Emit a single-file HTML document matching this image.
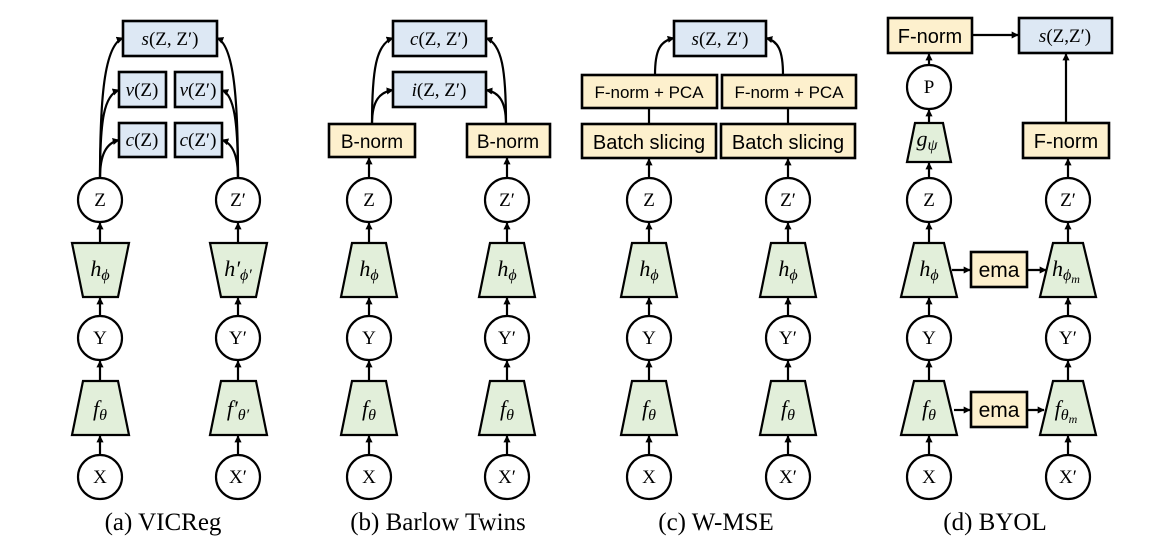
<!DOCTYPE html>
<html><head><meta charset="utf-8"><style>
html,body{margin:0;padding:0;background:#fff;}
svg{display:block;}
.m{font-family:"Liberation Serif",serif;font-style:italic;font-size:19px;}
.r{font-family:"Liberation Serif",serif;font-size:19px;}
.s{font-family:"Liberation Sans",sans-serif;font-size:17px;}
.cap{font-family:"Liberation Serif",serif;font-size:25px;}
.ln{stroke:#000;stroke-width:2.2;fill:none;}
.blue{fill:#dde8f4;stroke:#000;stroke-width:2.6;}
.yel{fill:#fdf0cd;stroke:#000;stroke-width:2.6;}
.grn{fill:#e2efda;stroke:#000;stroke-width:2.2;}
.cir{fill:#fff;stroke:#000;stroke-width:2.2;}
</style></head><body>
<svg width="1168" height="547" viewBox="0 0 1168 547">
<defs><marker id="ah" viewBox="0 0 10 10" refX="9" refY="5" markerWidth="3.2" markerHeight="3.2" orient="auto"><path d="M0,0L10,5L0,10z" fill="#000"/></marker></defs>

<!-- ===== Panel A: VICReg ===== -->
<g>
<g class="ln" marker-end="url(#ah)">
<line x1="100" y1="455" x2="100" y2="436"/><line x1="100" y1="381" x2="100" y2="361"/><line x1="100" y1="316" x2="100" y2="298"/><line x1="100" y1="243" x2="100" y2="223"/>
<line x1="238" y1="455" x2="238" y2="436"/><line x1="238" y1="381" x2="238" y2="361"/><line x1="238" y1="316" x2="238" y2="298"/><line x1="238" y1="243" x2="238" y2="223"/>
<path d="M100 178 C100 100 104 45 123 38"/><path d="M100 178 C100 120 104 95 119 90"/><path d="M100 178 C100 155 106 143 119 140"/>
<path d="M238 178 C238 100 234 45 217 38"/><path d="M238 178 C238 120 234 95 222 90"/><path d="M238 178 C238 155 232 143 222 140"/>
</g>
<rect class="blue" x="123" y="21" width="94" height="35"/>
<text class="m" x="170" y="45" text-anchor="middle">s<tspan font-style="normal">(Z, Z′)</tspan></text>
<rect class="blue" x="119" y="72" width="47" height="35"/>
<text class="m" x="142" y="96" text-anchor="middle">v<tspan font-style="normal">(Z)</tspan></text>
<rect class="blue" x="175" y="72" width="47" height="35"/>
<text class="m" x="198" y="96" text-anchor="middle">v<tspan font-style="normal">(Z′)</tspan></text>
<rect class="blue" x="119" y="123" width="47" height="34"/>
<text class="m" x="142" y="146" text-anchor="middle">c<tspan font-style="normal">(Z)</tspan></text>
<rect class="blue" x="175" y="123" width="47" height="34"/>
<text class="m" x="198" y="146" text-anchor="middle">c<tspan font-style="normal">(Z′)</tspan></text>
<circle class="cir" cx="100" cy="200" r="22"/><text class="r" x="100" y="206" text-anchor="middle">Z</text>
<circle class="cir" cx="238" cy="200" r="22"/><text class="r" x="238" y="206" text-anchor="middle">Z′</text>
<polygon class="grn" points="72,243 129,243 118,297 83,297"/>
<text class="m" x="100" y="276" text-anchor="middle" style="font-size:22px">h<tspan font-size="16" dy="4">ϕ</tspan></text>
<polygon class="grn" points="210,243 267,243 256,297 221,297"/>
<text class="m" x="238" y="276" text-anchor="middle" style="font-size:22px">h′<tspan font-size="16" dy="4">ϕ′</tspan></text>
<circle class="cir" cx="100" cy="338" r="22"/><text class="r" x="100" y="344" text-anchor="middle">Y</text>
<circle class="cir" cx="238" cy="338" r="22"/><text class="r" x="238" y="344" text-anchor="middle">Y′</text>
<polygon class="grn" points="83,381 118,381 129,435 72,435"/>
<text class="m" x="100" y="416" text-anchor="middle" style="font-size:22px">f<tspan font-size="16" dy="4">θ</tspan></text>
<polygon class="grn" points="221,381 256,381 267,435 210,435"/>
<text class="m" x="238" y="416" text-anchor="middle" style="font-size:22px">f′<tspan font-size="16" dy="4">θ′</tspan></text>
<circle class="cir" cx="100" cy="477" r="22"/><text class="r" x="100" y="483" text-anchor="middle">X</text>
<circle class="cir" cx="238" cy="477" r="22"/><text class="r" x="238" y="483" text-anchor="middle">X′</text>
<text class="cap" x="163" y="530" text-anchor="middle">(a) VICReg</text>
</g>

<!-- ===== Panel B: Barlow Twins ===== -->
<g>
<g class="ln" marker-end="url(#ah)">
<line x1="369" y1="455" x2="369" y2="436"/><line x1="369" y1="381" x2="369" y2="361"/><line x1="369" y1="316" x2="369" y2="298"/><line x1="369" y1="243" x2="369" y2="223"/><line x1="369" y1="178" x2="369" y2="158"/>
<line x1="507" y1="455" x2="507" y2="436"/><line x1="507" y1="381" x2="507" y2="361"/><line x1="507" y1="316" x2="507" y2="298"/><line x1="507" y1="243" x2="507" y2="223"/><line x1="507" y1="178" x2="507" y2="158"/>
<path d="M372 124 C372 70 376 44 393 38"/><path d="M372 124 C372 100 380 92 393 90"/>
<path d="M506 124 C506 70 502 44 486 38"/><path d="M506 124 C506 100 498 92 486 90"/>
</g>
<rect class="blue" x="393" y="21" width="93" height="35"/>
<text class="m" x="439" y="45" text-anchor="middle">c<tspan font-style="normal">(Z, Z′)</tspan></text>
<rect class="blue" x="393" y="72" width="93" height="35"/>
<text class="m" x="439" y="96" text-anchor="middle">i<tspan font-style="normal">(Z, Z′)</tspan></text>
<rect class="yel" x="329" y="124" width="86" height="33"/>
<text class="s" x="372" y="148" text-anchor="middle" style="font-size:19px">B-norm</text>
<rect class="yel" x="467" y="124" width="83" height="33"/>
<text class="s" x="508" y="148" text-anchor="middle" style="font-size:19px">B-norm</text>
<circle class="cir" cx="369" cy="200" r="22"/><text class="r" x="369" y="206" text-anchor="middle">Z</text>
<circle class="cir" cx="507" cy="200" r="22"/><text class="r" x="507" y="206" text-anchor="middle">Z′</text>
<polygon class="grn" points="352,243 386,243 397,297 341,297"/>
<text class="m" x="369" y="276" text-anchor="middle" style="font-size:22px">h<tspan font-size="16" dy="4">ϕ</tspan></text>
<polygon class="grn" points="490,243 524,243 535,297 479,297"/>
<text class="m" x="507" y="276" text-anchor="middle" style="font-size:22px">h<tspan font-size="16" dy="4">ϕ</tspan></text>
<circle class="cir" cx="369" cy="338" r="22"/><text class="r" x="369" y="344" text-anchor="middle">Y</text>
<circle class="cir" cx="507" cy="338" r="22"/><text class="r" x="507" y="344" text-anchor="middle">Y′</text>
<polygon class="grn" points="352,381 386,381 397,435 341,435"/>
<text class="m" x="369" y="416" text-anchor="middle" style="font-size:22px">f<tspan font-size="16" dy="4">θ</tspan></text>
<polygon class="grn" points="490,381 524,381 535,435 479,435"/>
<text class="m" x="507" y="416" text-anchor="middle" style="font-size:22px">f<tspan font-size="16" dy="4">θ</tspan></text>
<circle class="cir" cx="369" cy="477" r="22"/><text class="r" x="369" y="483" text-anchor="middle">X</text>
<circle class="cir" cx="507" cy="477" r="22"/><text class="r" x="507" y="483" text-anchor="middle">X′</text>
<text class="cap" x="438" y="530" text-anchor="middle">(b) Barlow Twins</text>
</g>

<!-- ===== Panel C: W-MSE ===== -->
<g>
<g class="ln" marker-end="url(#ah)">
<line x1="649" y1="455" x2="649" y2="436"/><line x1="649" y1="381" x2="649" y2="361"/><line x1="649" y1="316" x2="649" y2="298"/><line x1="649" y1="243" x2="649" y2="223"/><line x1="649" y1="178" x2="649" y2="159"/>
<line x1="788" y1="455" x2="788" y2="436"/><line x1="788" y1="381" x2="788" y2="361"/><line x1="788" y1="316" x2="788" y2="298"/><line x1="788" y1="243" x2="788" y2="223"/><line x1="788" y1="178" x2="788" y2="159"/>
<path d="M655 75 C655 50 660 41 674 38"/><path d="M783 75 C783 50 778 41 766 38"/>
</g>
<g class="ln"><line x1="649" y1="124" x2="649" y2="108"/><line x1="788" y1="124" x2="788" y2="108"/></g>
<rect class="blue" x="674" y="21" width="92" height="35"/>
<text class="m" x="720" y="45" text-anchor="middle">s<tspan font-style="normal">(Z, Z′)</tspan></text>
<rect class="yel" x="582" y="75" width="135" height="33"/>
<text class="s" x="649" y="98" text-anchor="middle">F-norm + PCA</text>
<rect class="yel" x="722" y="75" width="134" height="33"/>
<text class="s" x="789" y="98" text-anchor="middle">F-norm + PCA</text>
<rect class="yel" x="582" y="124" width="134" height="34"/>
<text class="s" x="649" y="149" text-anchor="middle" style="font-size:20px">Batch slicing</text>
<rect class="yel" x="721" y="124" width="134" height="34"/>
<text class="s" x="788" y="149" text-anchor="middle" style="font-size:20px">Batch slicing</text>
<circle class="cir" cx="649" cy="200" r="22"/><text class="r" x="649" y="206" text-anchor="middle">Z</text>
<circle class="cir" cx="788" cy="200" r="22"/><text class="r" x="788" y="206" text-anchor="middle">Z′</text>
<polygon class="grn" points="632,243 666,243 677,297 621,297"/>
<text class="m" x="649" y="276" text-anchor="middle" style="font-size:22px">h<tspan font-size="16" dy="4">ϕ</tspan></text>
<polygon class="grn" points="771,243 805,243 816,297 760,297"/>
<text class="m" x="788" y="276" text-anchor="middle" style="font-size:22px">h<tspan font-size="16" dy="4">ϕ</tspan></text>
<circle class="cir" cx="649" cy="338" r="22"/><text class="r" x="649" y="344" text-anchor="middle">Y</text>
<circle class="cir" cx="788" cy="338" r="22"/><text class="r" x="788" y="344" text-anchor="middle">Y′</text>
<polygon class="grn" points="632,381 666,381 677,435 621,435"/>
<text class="m" x="649" y="416" text-anchor="middle" style="font-size:22px">f<tspan font-size="16" dy="4">θ</tspan></text>
<polygon class="grn" points="771,381 805,381 816,435 760,435"/>
<text class="m" x="788" y="416" text-anchor="middle" style="font-size:22px">f<tspan font-size="16" dy="4">θ</tspan></text>
<circle class="cir" cx="649" cy="477" r="22"/><text class="r" x="649" y="483" text-anchor="middle">X</text>
<circle class="cir" cx="788" cy="477" r="22"/><text class="r" x="788" y="483" text-anchor="middle">X′</text>
<text class="cap" x="716" y="530" text-anchor="middle">(c) W-MSE</text>
</g>

<!-- ===== Panel D: BYOL ===== -->
<g>
<g class="ln" marker-end="url(#ah)">
<line x1="929" y1="455" x2="929" y2="436"/><line x1="929" y1="381" x2="929" y2="361"/><line x1="929" y1="316" x2="929" y2="298"/><line x1="929" y1="243" x2="929" y2="223"/><line x1="929" y1="178" x2="929" y2="163"/><line x1="929" y1="123" x2="929" y2="110"/><line x1="929" y1="65" x2="929" y2="54"/>
<line x1="1068" y1="455" x2="1068" y2="436"/><line x1="1068" y1="381" x2="1068" y2="361"/><line x1="1068" y1="316" x2="1068" y2="298"/><line x1="1068" y1="243" x2="1068" y2="223"/><line x1="1068" y1="178" x2="1068" y2="159"/><line x1="1066" y1="123" x2="1066" y2="54"/>
<line x1="972" y1="35" x2="1018" y2="35"/>
<line x1="952" y1="270" x2="970" y2="270"/><line x1="1027" y1="270" x2="1046" y2="270"/>
<line x1="954" y1="410" x2="970" y2="410"/><line x1="1027" y1="410" x2="1044" y2="410"/>
</g>
<rect class="yel" x="888" y="18" width="84" height="35"/>
<text class="s" x="930" y="43" text-anchor="middle" style="font-size:20px">F-norm</text>
<rect class="blue" x="1019" y="18" width="93" height="35"/>
<text class="m" x="1065" y="42" text-anchor="middle">s<tspan font-style="normal">(Z,Z′)</tspan></text>
<circle class="cir" cx="929" cy="87" r="22"/><text class="r" x="929" y="93" text-anchor="middle">P</text>
<polygon class="grn" points="915,123 943,123 951,162 907,162"/>
<text class="m" x="927" y="146" text-anchor="middle" style="font-size:22px">g<tspan font-size="16" dy="4">ψ</tspan></text>
<rect class="yel" x="1023" y="123" width="86" height="35"/>
<text class="s" x="1066" y="148" text-anchor="middle" style="font-size:20px">F-norm</text>
<circle class="cir" cx="929" cy="200" r="22"/><text class="r" x="929" y="206" text-anchor="middle">Z</text>
<circle class="cir" cx="1068" cy="200" r="22"/><text class="r" x="1068" y="206" text-anchor="middle">Z′</text>
<polygon class="grn" points="914,243 944,243 957,297 901,297"/>
<text class="m" x="929" y="276" text-anchor="middle" style="font-size:22px">h<tspan font-size="16" dy="4">ϕ</tspan></text>
<rect class="yel" x="971" y="252" width="56" height="35"/>
<text class="s" x="999" y="277" text-anchor="middle" style="font-size:21px">ema</text>
<polygon class="grn" points="1053,243 1083,243 1096,297 1040,297"/>
<text class="m" x="1066" y="276" text-anchor="middle" style="font-size:22px">h<tspan font-size="16" dy="4">ϕ<tspan font-size="12" dy="3">m</tspan></tspan></text>
<circle class="cir" cx="929" cy="338" r="22"/><text class="r" x="929" y="344" text-anchor="middle">Y</text>
<circle class="cir" cx="1068" cy="338" r="22"/><text class="r" x="1068" y="344" text-anchor="middle">Y′</text>
<polygon class="grn" points="914,381 944,381 957,435 901,435"/>
<text class="m" x="929" y="416" text-anchor="middle" style="font-size:22px">f<tspan font-size="16" dy="4">θ</tspan></text>
<rect class="yel" x="971" y="392" width="56" height="35"/>
<text class="s" x="999" y="417" text-anchor="middle" style="font-size:21px">ema</text>
<polygon class="grn" points="1053,381 1083,381 1096,435 1040,435"/>
<text class="m" x="1066" y="416" text-anchor="middle" style="font-size:22px">f<tspan font-size="16" dy="4">θ<tspan font-size="12" dy="3">m</tspan></tspan></text>
<circle class="cir" cx="929" cy="477" r="22"/><text class="r" x="929" y="483" text-anchor="middle">X</text>
<circle class="cir" cx="1068" cy="477" r="22"/><text class="r" x="1068" y="483" text-anchor="middle">X′</text>
<text class="cap" x="995" y="530" text-anchor="middle">(d) BYOL</text>
</g>
</svg>
</body></html>
